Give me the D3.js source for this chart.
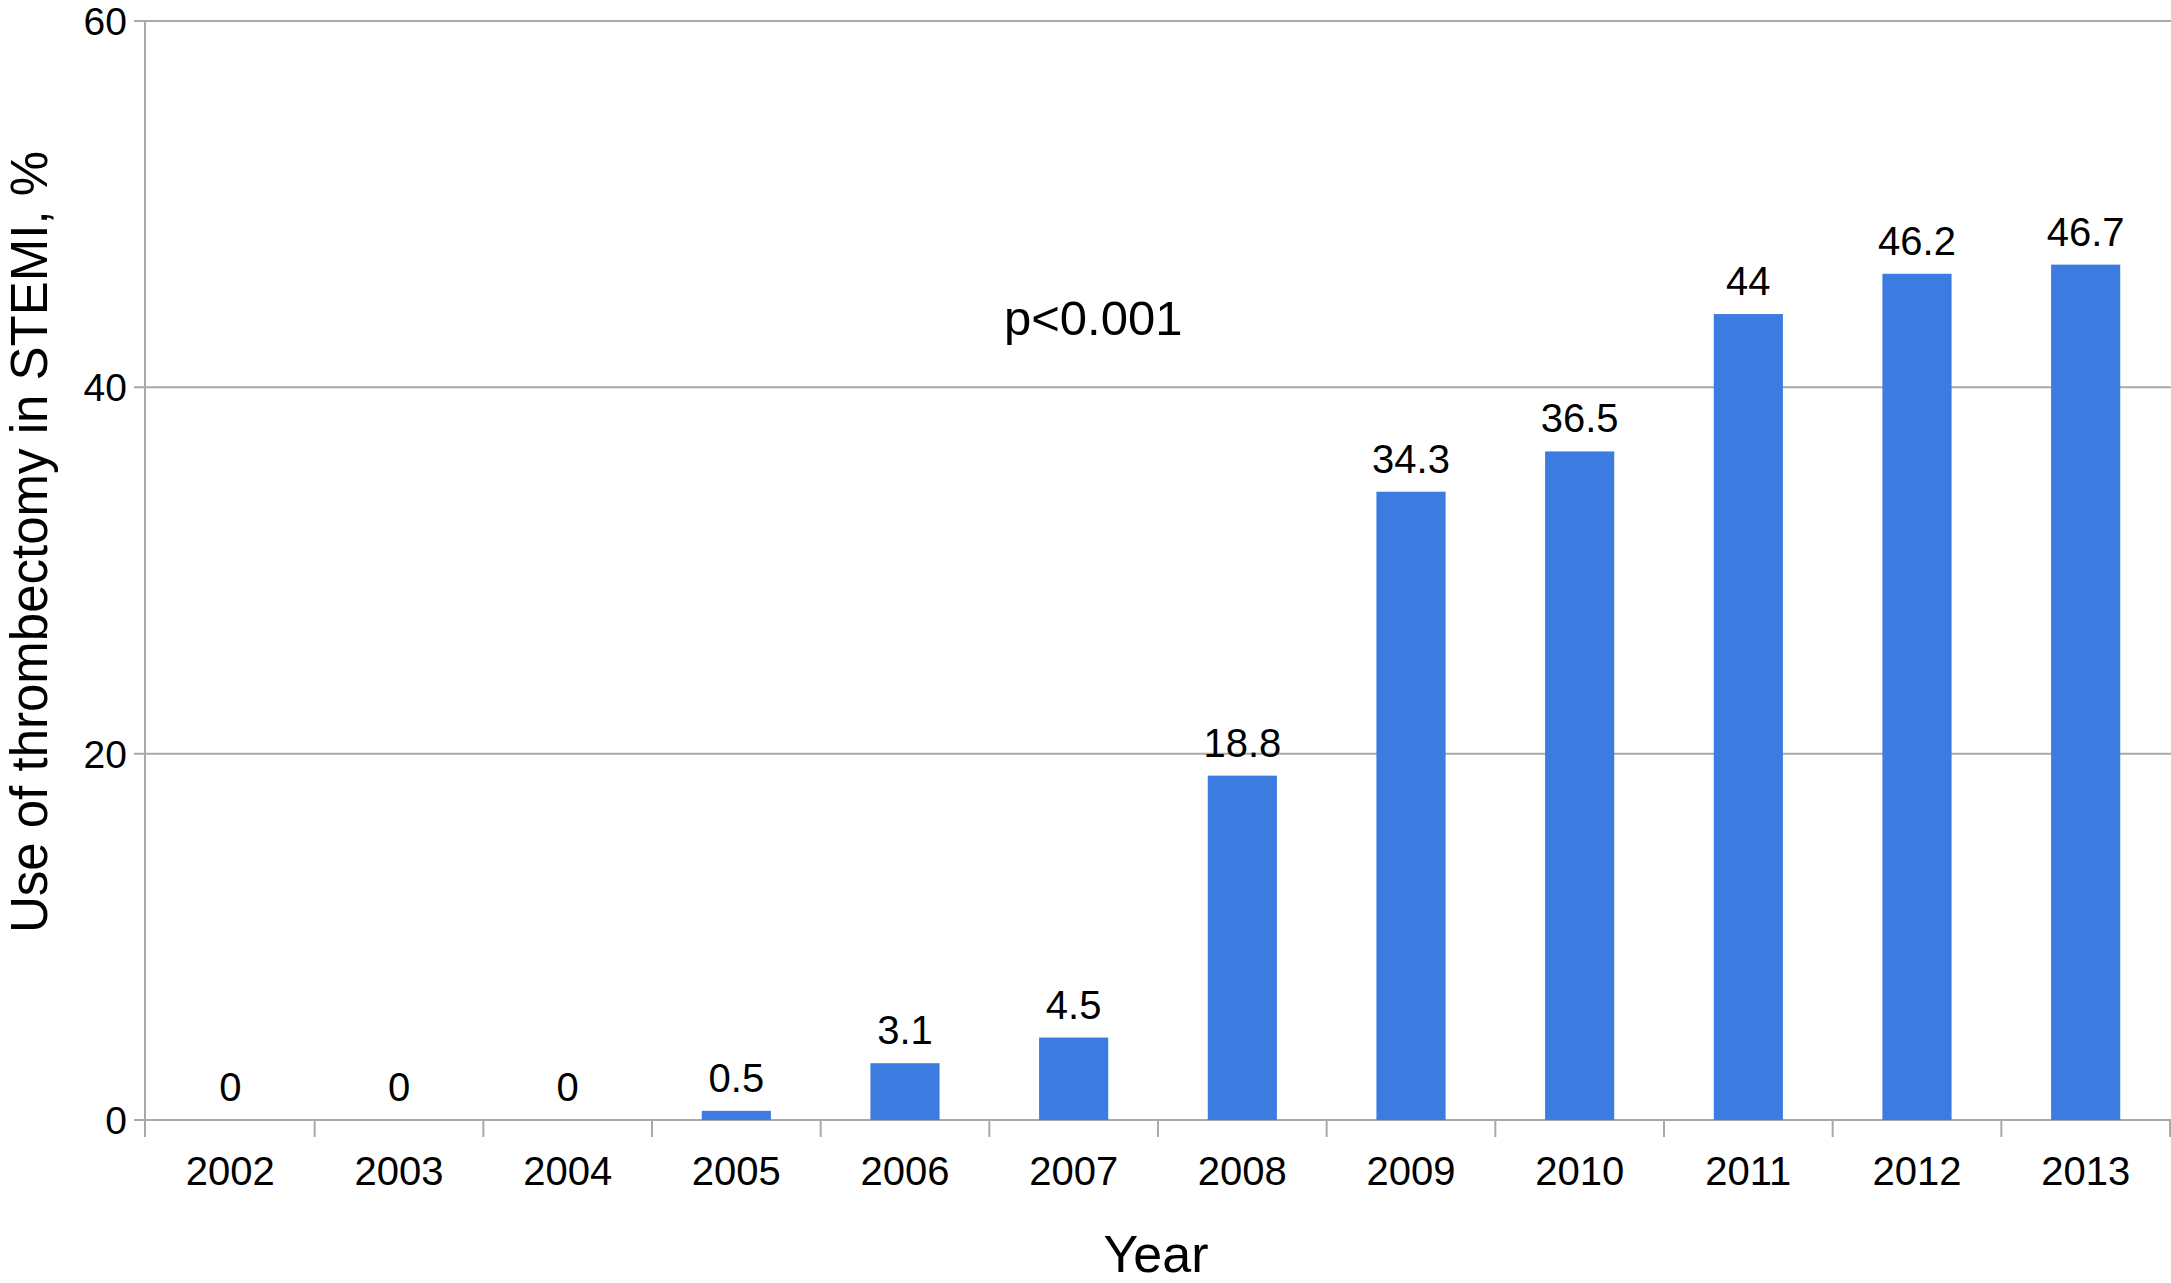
<!DOCTYPE html>
<html>
<head>
<meta charset="utf-8">
<script src="https://cdn.jsdelivr.net/npm/d3@7"></script>
<style>
  html, body { margin: 0; padding: 0; background: #fff; }
  svg { display: block; font-family: "Liberation Sans", Arial, sans-serif; }
</style>
</head>
<body>
<svg id="chart" width="2171" height="1283"></svg>
<script>
const years = ["2002","2003","2004","2005","2006","2007","2008","2009","2010","2011","2012","2013"];
const values = [0, 0, 0, 0.5, 3.1, 4.5, 18.8, 34.3, 36.5, 44, 46.2, 46.7];
const valueLabels = ["0","0","0","0.5","3.1","4.5","18.8","34.3","36.5","44","46.2","46.7"];
const yTicks = [0, 20, 40, 60];
const yTitle = "Use of thrombectomy in STEMI, %";
const xTitle = "Year";
const annotation = "p<0.001";

(function () {
const svg = d3.select("#chart");
const mLeft = 146, mRight = 2170, mTop = 21, mBottom = 1120;
const gridColor = "#a9a9a9";
const barColor = "#3c7bdf";

const x = d3.scaleBand().domain(years).range([mLeft, mRight]).paddingInner(0.59).paddingOuter(0.295);
const xTicksScale = d3.scaleBand().domain(years).range([mLeft, mRight]);
const y = d3.scaleLinear().domain([0, 60]).range([mBottom, mTop]);

// gridlines + y labels
const gy = svg.append("g");
gy.selectAll("line").data(yTicks).join("line")
  .attr("x1", mLeft - 12).attr("x2", 2171)
  .attr("y1", d => y(d)).attr("y2", d => y(d))
  .attr("stroke", gridColor).attr("stroke-width", 2);
gy.selectAll("text").data(yTicks).join("text")
  .attr("x", mLeft - 19).attr("y", d => y(d))
  .attr("dy", "0.36em")
  .attr("text-anchor", "end")
  .attr("font-size", 39).attr("fill", "#000")
  .text(d => d);

// y axis line
svg.append("line")
  .attr("x1", mLeft - 1).attr("x2", mLeft - 1)
  .attr("y1", mTop).attr("y2", mBottom + 17)
  .attr("stroke", gridColor).attr("stroke-width", 2);

// x ticks (boundaries between bands)
const boundaries = years.map(d => xTicksScale(d)).concat([mRight]);
svg.append("g").selectAll("line").data(boundaries.slice(1)).join("line")
  .attr("x1", d => d).attr("x2", d => d)
  .attr("y1", mBottom).attr("y2", mBottom + 17)
  .attr("stroke", gridColor).attr("stroke-width", 2);

// bars
svg.append("g").selectAll("rect").data(values).join("rect")
  .attr("x", (d, i) => x(years[i]))
  .attr("width", x.bandwidth())
  .attr("y", d => y(d))
  .attr("height", d => mBottom - y(d))
  .attr("fill", barColor);

// value labels
svg.append("g").selectAll("text").data(values).join("text")
  .attr("x", (d, i) => x(years[i]) + x.bandwidth() / 2)
  .attr("y", d => y(d) - 19)
  .attr("text-anchor", "middle")
  .attr("font-size", 40).attr("fill", "#000")
  .text((d, i) => valueLabels[i]);

// x labels
svg.append("g").selectAll("text").data(years).join("text")
  .attr("x", d => xTicksScale(d) + xTicksScale.bandwidth() / 2)
  .attr("y", 1185)
  .attr("text-anchor", "middle")
  .attr("font-size", 40).attr("fill", "#000")
  .text(d => d);

// axis titles
svg.append("text")
  .attr("x", (mLeft + mRight) / 2 - 2).attr("y", 1272)
  .attr("text-anchor", "middle")
  .attr("font-size", 52).attr("fill", "#000")
  .text(xTitle);

svg.append("text")
  .attr("transform", "translate(47,542) rotate(-90)")
  .attr("text-anchor", "middle")
  .attr("font-size", 51).attr("fill", "#000")
  .text(yTitle);

// annotation
svg.append("text")
  .attr("x", 1004).attr("y", 335)
  .attr("font-size", 49).attr("fill", "#000")
  .text(annotation);
})();
</script>
</body>
</html>
